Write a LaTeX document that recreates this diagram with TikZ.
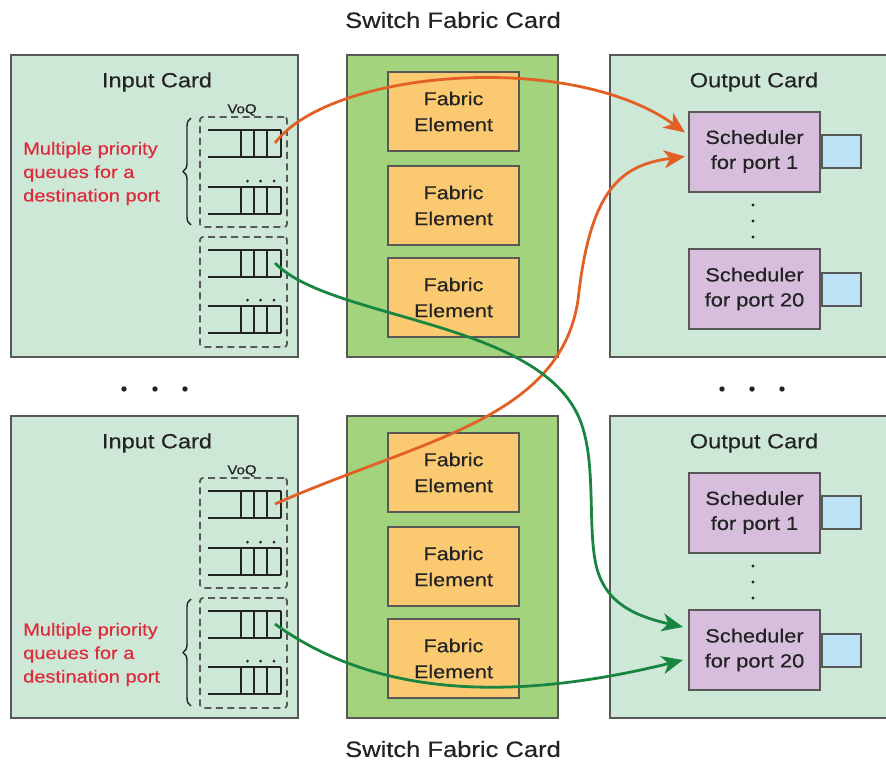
\documentclass[tikz,border=0pt]{standalone}
\usepackage{fontspec}
\setmainfont[FakeStretch=1.15,FakeBold=0.4]{Liberation Sans}
\usetikzlibrary{arrows.meta,decorations.pathreplacing,calc}
\definecolor{cardbg}{RGB}{205,232,215}
\definecolor{fabbg}{RGB}{163,211,125}
\definecolor{elemc}{RGB}{250,201,112}
\definecolor{schedc}{RGB}{216,190,221}
\definecolor{portc}{RGB}{190,226,245}
\definecolor{borderc}{RGB}{88,88,88}
\definecolor{orng}{RGB}{226,96,36}
\definecolor{grn}{RGB}{24,134,64}
\definecolor{redt}{RGB}{222,42,58}
\definecolor{txt}{RGB}{35,35,35}
\begin{document}
\begin{tikzpicture}[x=1pt,y=-1pt,
  box/.style={draw=borderc,line width=2pt,inner sep=0pt},
  card/.style={box,fill=cardbg},
  fcard/.style={box,fill=fabbg},
  elem/.style={box,fill=elemc,minimum width=131pt,minimum height=79pt,align=center,
     font=\fontsize{18.7}{26}\selectfont,text=txt},
  sched/.style={box,fill=schedc,minimum width=131pt,minimum height=80pt,align=center,
     font=\fontsize{19}{25}\selectfont,text=txt},
  port/.style={box,fill=portc,minimum width=39pt,minimum height=33pt},
  vbox/.style={draw=borderc,line width=1.8pt,dash pattern=on 7pt off 4.5pt,rounded corners=3pt,
     minimum width=87pt,minimum height=110pt,inner sep=0pt},
  cardtitle/.style={font=\fontsize{20.5}{24}\selectfont,text=txt,inner sep=0pt},
  bigtitle/.style={font=\fontsize{22.2}{26}\selectfont,text=txt,inner sep=0pt},
  voq/.style={font=\fontsize{13}{15}\selectfont,text=txt,inner sep=0pt},
  redlabel/.style={font=\fontsize{17.4}{23.5}\selectfont,text=redt,align=left,inner sep=0pt},
  qline/.style={draw=txt,line width=1.4pt},
  flow/.style={line width=2.8pt,-{Stealth[length=21pt,width=18pt,inset=6pt]}},
  pics/queue/.style={code={
    \draw[qline] (0,0) -- (73,0) (0,27) -- (73,27) (33,0) -- (33,27)
      (46,0) -- (46,27) (59,0) -- (59,27) (73,0) -- (73,27);
    \coordinate (-end) at (67,13);
  }},
  pics/queuedots/.style={code={
    \draw[qline] (0,0) -- (73,0) (0,27) -- (73,27) (33,0) -- (33,27)
      (46,0) -- (46,27) (59,0) -- (59,27) (73,0) -- (73,27);
    \fill[txt] (39.5,-6) circle (1.5pt) (52.5,-6) circle (1.5pt) (66,-6) circle (1.5pt);
  }},
]
\useasboundingbox (0,0) rectangle (886,763);

\node[bigtitle] (title1) at (453,20) {Switch Fabric Card};
\node[bigtitle] (title2) at (453,749) {Switch Fabric Card};

\foreach \r/\o/\g in {t/0/0, b/361/120}{
\begin{scope}[yshift=-\o pt]
  \node[card,minimum width=287pt,minimum height=302pt] (in\r) at (154.5,206) {};
  \node[fcard,minimum width=211pt,minimum height=302pt] (fab\r) at (452.5,206) {};
  \node[card,minimum width=282pt,minimum height=302pt] (out\r) at (751,206) {};
  \node[cardtitle] (inlbl\r) at (157,82) {Input Card};
  \node[cardtitle] (outlbl\r) at (754,82) {Output Card};
  \node[voq] (voq\r) at (242,110) {VoQ};
  \node[vbox] (ga\r) at (243.5,172) {};
  \node[vbox] (gb\r) at (243.5,292) {};
  \pic (qa\r) at (208,130) {queue};
  \pic (qb\r) at (208,187) {queuedots};
  \pic (qc\r) at (208,250) {queue};
  \pic (qd\r) at (208,306) {queuedots};
  \draw[txt,line width=1.4pt,decorate,decoration={brace,amplitude=8pt}]
     (191,{225+\g}) -- (191,{118+\g});
  \node[redlabel,anchor=west] (red\r) at (23,{173.5+\g})
     {Multiple priority\\queues for a\\destination port};
  \node[elem] (fe1\r) at (453.5,111.5) {Fabric\\Element};
  \node[elem] (fe2\r) at (453.5,205.5) {Fabric\\Element};
  \node[elem] (fe3\r) at (453.5,297.5) {Fabric\\Element};
  \node[sched] (s1\r) at (754.5,151.5) {Scheduler\\for port 1};
  \node[sched] (s20\r) at (754.5,289) {Scheduler\\for port 20};
  \node[port,anchor=west] (p1\r) at (s1\r.east) {};
  \node[port,anchor=west] (p20\r) at (s20\r.east) {};
  \fill[txt] (753,205) circle (1.7pt) (753,221) circle (1.7pt) (753,237) circle (1.7pt);
\end{scope}
}

\fill[txt] (124,389) circle (2.7pt) (155,389) circle (2.7pt) (185,389) circle (2.7pt);
\fill[txt] (722,389) circle (2.7pt) (752,389) circle (2.7pt) (782,389) circle (2.7pt);

% flows
\draw[flow,orng] (qat-end) .. controls (330,70) and (570,50) .. ($(s1t.west)+(-3,-19)$);
\draw[flow,orng] (qab-end) .. controls (420,440) and (560,420) .. (578,300)
   .. controls (590,190) and (620,165) .. ($(s1t.west)+(-3,5)$);
\draw[flow,grn] (qct-end) .. controls (330,320) and (540,320) .. (580,420)
   .. controls (596,460) and (588,520) .. (595,560)
   .. controls (602,600) and (630,615) .. ($(s20b.west)+(-5,-23)$);
\draw[flow,grn] (qcb-end) .. controls (380,700) and (520,700) .. ($(s20b.west)+(-5,10)$);
\end{tikzpicture}
\end{document}
